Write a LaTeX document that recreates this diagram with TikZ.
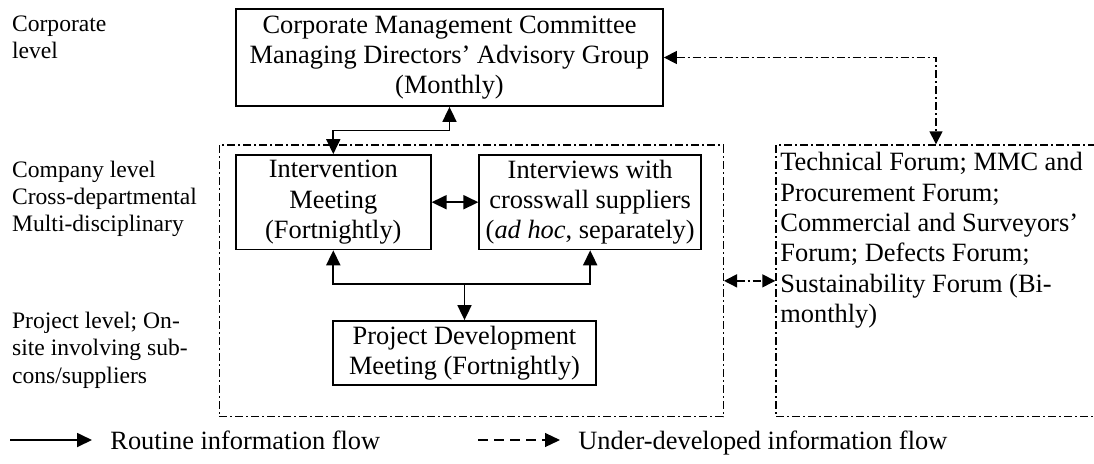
\documentclass[tikz,border=0pt]{standalone}
\usepackage{fontspec}
\setmainfont{Liberation Serif}
\usetikzlibrary{arrows.meta,calc}

\begin{document}
\begin{tikzpicture}[x=0.5pt,y=-0.5pt]
    % 设置样式
    \tikzset{
        box/.style={rectangle, draw, line width=0.9pt, align=center, inner xsep=1pt, inner ysep=0pt, font=\fontsize{13.2}{15.2}\selectfont},
        group/.style={rectangle, draw, line width=0.7pt, dash pattern=on 4pt off 1.5pt on 1pt off 1.5pt},
        level/.style={anchor=north west, align=left, inner sep=0pt, font=\fontsize{11.8}{13.6}\selectfont},
        legend/.style={anchor=base west, inner sep=0pt, font=\fontsize{13.2}{15.2}\selectfont},
        flow/.style={line width=0.9pt, >={Triangle[length=7.5pt,width=7pt]}},
        udflow/.style={line width=0.7pt, dash pattern=on 4pt off 1.5pt on 1pt off 1.5pt, >={Triangle[length=6.5pt,width=6.5pt]}},
    }

    % 固定画布
    \useasboundingbox (0,0) rectangle (1094,463);

    % 层级说明 (左侧)
    \node[level] (lcorp) at (11.7,15.7) {Corporate\\level};
    \node[level] (lcomp) at (11.7,160.6) {Company level\\Cross-departmental\\Multi-disciplinary};
    \node[level] (lproj) at (11.7,312) {Project level; On-\\site involving sub-\\cons/suppliers};

    % 点划线分组框
    \node[group, minimum width=252pt, minimum height=135.85pt] (comp) at (471.3,280.85) {};
    \node[group, minimum width=160pt, minimum height=135.85pt] (forumbox) at (936,280.85) {};
    \node[anchor=north west, align=left, inner xsep=2pt, inner ysep=3.5pt, font=\fontsize{13.2}{15.2}\selectfont] (forum) at (776,145)
        {Technical Forum; MMC and\\Procurement Forum;\\Commercial and Surveyors'\\Forum; Defects Forum;\\Sustainability Forum (Bi-\\monthly)};

    % 会议框
    \node[box, minimum width=213.5pt, minimum height=48.5pt] (top) at (449.5,57.5)
        {Corporate Management Committee\\Managing Directors' Advisory Group\\(Monthly)};
    \node[box, minimum width=97.4pt, minimum height=47.2pt] (inter) at (333.3,202.2)
        {Intervention\\Meeting\\(Fortnightly)};
    \node[box, minimum width=110.9pt, minimum height=47.2pt] (interv) at (590.2,202.2)
        {Interviews with\\crosswall suppliers\\(\textit{ad hoc}, separately)};
    \node[box, minimum width=131.2pt, minimum height=32pt] (proj) at (464.5,353)
        {Project Development\\Meeting (Fortnightly)};

    % 常规信息流 (实线)
    \coordinate (j1) at ($(inter.north)!0.5!(top.south)$);
    \draw[flow, <->] (inter.north) |- (j1) -| (top.south);
    \draw[flow, <->] (inter) -- (interv);
    \coordinate (hub) at ($(proj.north)+(0,-36)$);
    \draw[flow, <->] (inter.south) |- (hub) -| (interv.south);
    \draw[flow, ->] (hub) -- (proj.north);

    % 欠发达信息流 (点划线)
    \draw[udflow, <->] (top.east) -| (forumbox.north);
    \draw[udflow, <->] (comp.east) -- (forumbox.west);

    % 图例
    \coordinate (r0) at (10,440);
    \coordinate (r1) at (92,440);
    \coordinate (u0) at (478,440);
    \coordinate (u1) at (560,440);
    \draw[flow, ->] (r0) -- (r1);
    \node[legend] (rtxt) at (110,449) {Routine information flow};
    \draw[flow, line width=0.6pt, dash pattern=on 5pt off 3pt, ->] (u0) -- (u1);
    \node[legend] (utxt) at (578,449) {Under-developed information flow};
\end{tikzpicture}
\end{document}
